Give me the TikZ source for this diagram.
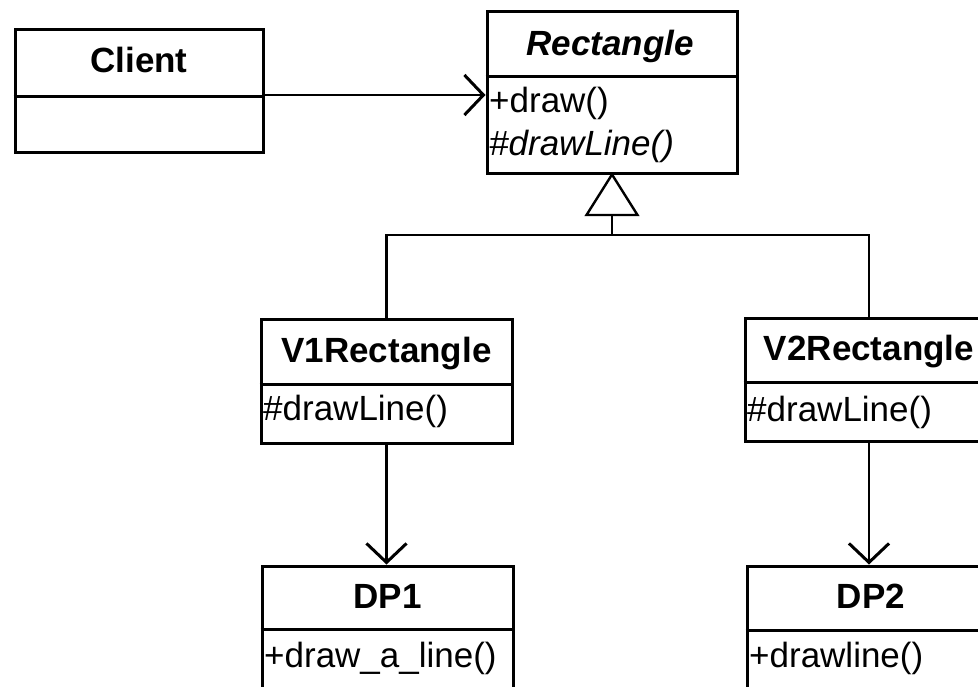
\documentclass[tikz,border=0pt]{standalone}
\usepackage{fontspec}
\setmainfont{Liberation Sans}
\usetikzlibrary{arrows.meta}
\tikzset{
  classbox/.style={draw=black, line width=3pt, fill=white, inner sep=0pt},
  divider/.style={line width=3pt},
  title/.style={anchor=base, inner sep=0pt, font=\fontsize{35}{42}\selectfont\bfseries},
  member/.style={anchor=base west, inner sep=0pt, font=\fontsize{35}{42}\selectfont},
  assoc/.style={line width=2.4pt, -{Straight Barb[length=19pt, width=40pt, line width=3pt]}},
  conn/.style={line width=2.4pt}
}
\begin{document}
\begin{tikzpicture}[x=1pt, y=-1pt]
\useasboundingbox (0,0) rectangle (978,686);
\clip (0,0) rectangle (978,686);
\fill[white] (0,0) rectangle (978,686);

% Client
\node[classbox, minimum width=248pt, minimum height=123pt] (client) at (139,90.5) {};
\draw[divider] (client.west |- 0,96) -- (client.east |- 0,96);
\node[title] (clientt) at (139,72) {Client};
\coordinate (assocy) at (139,95);

% Rectangle
\node[classbox, minimum width=250pt, minimum height=162pt] (rect) at (612,92) {};
\draw[divider] (rect.west |- 0,76) -- (rect.east |- 0,76);
\node[title, font=\fontsize{35}{42}\selectfont\bfseries\itshape] (rectt) at (610,55) {Rectangle};
\node[member] (rectm1) at (489,112) {+draw()};
\node[member, font=\fontsize{35}{42}\selectfont\itshape] (rectm2) at (489,155) {\#drawLine()};

% V1Rectangle
\node[classbox, minimum width=251pt, minimum height=124pt] (v1) at (386.5,381) {};
\draw[divider] (v1.west |- 0,384) -- (v1.east |- 0,384);
\node[title] (v1t) at (386.5,362) {V1Rectangle};
\node[member] (v1m) at (263,420) {\#drawLine()};

% V2Rectangle
\node[classbox, minimum width=248pt, minimum height=123pt] (v2) at (869,379.5) {};
\draw[divider] (v2.west |- 0,382) -- (v2.east |- 0,382);
\node[title] (v2t) at (869,360) {V2Rectangle};
\node[member] (v2m) at (747,421) {\#drawLine()};

% DP1
\node[classbox, minimum width=251pt, minimum height=180pt] (dp1) at (387.5,656) {};
\draw[divider] (dp1.west |- 0,629) -- (dp1.east |- 0,629);
\node[title] (dp1t) at (387.5,608) {DP1};
\node[member] (dp1m) at (264,667) {+draw\_a\_line()};

% DP2
\node[classbox, minimum width=248pt, minimum height=180pt] (dp2) at (871,656) {};
\draw[divider] (dp2.west |- 0,630) -- (dp2.east |- 0,630);
\node[title] (dp2t) at (871,608) {DP2};
\node[member] (dp2m) at (749,667) {+drawline()};

% association Client -> Rectangle
\draw[assoc] (client.east |- assocy) -- (rect.west |- assocy);

% generalization
\coordinate (tribase) at (612,215);
\coordinate (junction) at (612,235);
\draw[line width=2.4pt, fill=white] (rect.south) -- ([xshift=-25.5pt]tribase) -- ([xshift=25.5pt]tribase) -- cycle;
\draw[conn] (tribase) -- (junction);
\draw[conn] (v1.north) |- (junction) -| (v2.north);

% associations to DP
\draw[assoc] (v1.south) -- (v1.south |- dp1.north);
\draw[assoc] (v2.south) -- (v2.south |- dp2.north);
\end{tikzpicture}
\end{document}
